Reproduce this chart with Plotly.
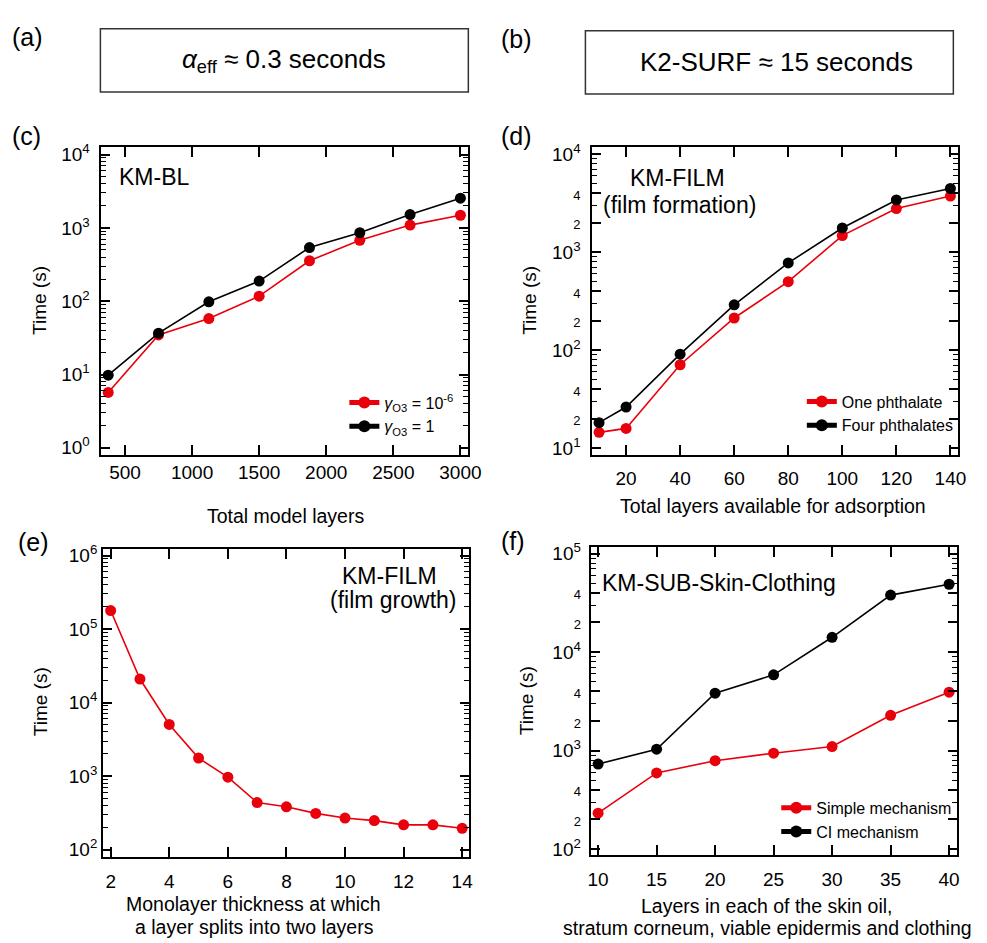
import plotly.graph_objects as go

# ---------------- data ----------------
c_layers = [375, 750, 1125, 1500, 1875, 2250, 2625, 3000]
c_gamma_small = [5.7, 34.7, 58, 117, 356, 676, 1090, 1485]
c_gamma_one = [9.8, 36.6, 98, 188, 539, 858, 1517, 2540]

d_layers = [10, 20, 40, 60, 80, 100, 120, 140]
d_one = [14.5, 15.9, 71, 213, 500, 1478, 2790, 3740]
d_four = [18.2, 26.3, 91, 290, 777, 1766, 3410, 4470]

e_thickness = [2, 3, 4, 5, 6, 7, 8, 9, 10, 11, 12, 13, 14]
e_time = [178600, 20900, 5035, 1758, 967, 437, 382, 311, 269, 248, 217, 217, 195]

f_layers = [10, 15, 20, 25, 30, 35, 40]
f_simple = [231, 592, 788, 940, 1097, 2280, 3910]
f_ci = [729, 1031, 3820, 5875, 14130, 37900, 48870]

c_xticks = [500, 1000, 1500, 2000, 2500, 3000]
d_xticks = [20, 40, 60, 80, 100, 120, 140]
e_xticks = [2, 4, 6, 8, 10, 12, 14]
f_xticks = [10, 15, 20, 25, 30, 35, 40]

c_decades = [0, 1, 2, 3, 4]
d_decades = [1, 2, 3, 4]
e_decades = [2, 3, 4, 5, 6]
f_decades = [2, 3, 4, 5]
labelled_minor = [2, 4]
minor_mults = [2, 3, 4, 5, 6, 7, 8, 9]

RED = "#e8000b"
BLACK = "#000000"
FONT = "Arial, Liberation Sans, sans-serif"
W, H = 987, 943


def px_x(p):
    return p / W


def px_y(p):
    return 1 - p / H


def major_ticks(decades, with_minor_labels):
    vals, texts = [], []
    for d in decades:
        vals.append(10 ** d)
        texts.append("10<sup>%d</sup>" % d)
        if with_minor_labels and d != decades[-1]:
            for m in labelled_minor:
                vals.append(m * 10 ** d)
                texts.append('<span style="font-size:13px">%d</span>' % m)
    return vals, texts


def minor_ticks(decades, skip):
    vals = []
    for d in decades[:-1]:
        for m in minor_mults:
            if m in skip:
                continue
            vals.append(m * 10 ** d)
    return vals


fig = go.Figure()

# ---------- traces ----------
marker = dict(size=11, symbol="circle")


def series(x, y, color, name, xa, ya, legend=None):
    kw = dict(legend=legend) if legend else dict(showlegend=False)
    return go.Scatter(x=x, y=y, mode="lines+markers", line=dict(color=color, width=1.6),
                      marker=dict(color=color, **marker), name=name, xaxis=xa, yaxis=ya, **kw)


fig.add_trace(series(c_layers, c_gamma_small, RED, "<i>γ</i><sub>O3</sub> = 10<sup>-6</sup>", "x", "y", "legend"))
fig.add_trace(series(c_layers, c_gamma_one, BLACK, "<i>γ</i><sub>O3</sub> = 1", "x", "y", "legend"))
fig.add_trace(series(d_layers, d_one, RED, "One phthalate", "x2", "y2", "legend2"))
fig.add_trace(series(d_layers, d_four, BLACK, "Four phthalates", "x2", "y2", "legend2"))
fig.add_trace(series(e_thickness, e_time, RED, "film growth", "x3", "y3"))
fig.add_trace(series(f_layers, f_simple, RED, "Simple mechanism", "x4", "y4", "legend3"))
fig.add_trace(series(f_layers, f_ci, BLACK, "CI mechanism", "x4", "y4", "legend3"))

# ---------- axes ----------
common = dict(showgrid=False, zeroline=False, showline=True, linecolor="black", linewidth=1.8,
              mirror="allticks", ticks="inside", tickcolor="black", tickwidth=1.5,
              tickfont=dict(family=FONT, size=19, color="black"))


def xaxis(domain, rng, tickvals, anchor, standoff):
    return dict(domain=domain, range=rng, tickmode="array", tickvals=tickvals,
                ticktext=[str(v) for v in tickvals], ticklen=10, anchor=anchor,
                ticklabelstandoff=standoff, **common)


def yaxis(domain, rng, decades, labelled, anchor, standoff):
    vals, texts = major_ticks(decades, labelled)
    mvals = minor_ticks(decades, labelled_minor if labelled else [])
    return dict(domain=domain, type="log", range=rng, tickmode="array", tickvals=vals,
                ticktext=texts, ticklen=9, anchor=anchor, ticklabelstandoff=standoff,
                minor=dict(tickmode="array", tickvals=mvals, ticks="inside", ticklen=5,
                           tickwidth=1.3, tickcolor="black", showgrid=False),
                **common)


top_dom = [px_y(453), px_y(142)]
fig.update_layout(
    xaxis=xaxis([px_x(100), px_x(473)], [324, 3059], c_xticks, "y", 0),
    yaxis=yaxis(top_dom, [-0.094, 4.098], c_decades, False, "x", 6),
    xaxis2=xaxis([px_x(599), px_x(971)], [7.5, 142.9], d_xticks, "y2", 6),
    yaxis2=yaxis(top_dom, [0.933, 4.07], d_decades, True, "x2", 6),
    xaxis3=xaxis([px_x(101.7), px_x(473.3)], [1.74, 14.22], e_xticks, "y3", 6),
    yaxis3=yaxis([px_y(860), px_y(548.3)], [1.90, 6.09], e_decades, False, "x3", 0),
    xaxis4=xaxis([px_x(597.3), px_x(969.3)], [9.36, 40.64], f_xticks, "y4", 6),
    yaxis4=yaxis([px_y(858.3), px_y(546.7)], [1.936, 5.064], f_decades, True, "x4", 4),
)

legend_common = dict(font=dict(family=FONT, size=16, color="black"), bgcolor="rgba(0,0,0,0)",
                     xanchor="left", yanchor="top", tracegroupgap=0, itemsizing="constant")
fig.update_layout(
    legend=dict(x=px_x(347), y=px_y(383), **legend_common),
    legend2=dict(x=px_x(812), y=px_y(382), **legend_common),
    legend3=dict(x=px_x(786), y=px_y(793), **legend_common),
)

# ---------- boxes ----------
fig.add_shape(type="rect", xref="paper", yref="paper", x0=px_x(99), x1=px_x(473),
              y0=px_y(86), y1=px_y(22), line=dict(color="#333", width=1.5))
fig.add_shape(type="rect", xref="paper", yref="paper", x0=px_x(592), x1=px_x(966),
              y0=px_y(88), y1=px_y(24), line=dict(color="#333", width=1.5))

ann = []


def add_text(text, x, y, size, xanchor="center", angle=0):
    ann.append(dict(text=text, x=px_x(x), y=px_y(y), xref="paper", yref="paper",
                    xanchor=xanchor, yanchor="middle", showarrow=False, textangle=angle,
                    font=dict(family=FONT, size=size, color="black")))


add_text("<i>α</i><sub>eff</sub> ≈ 0.3 seconds", 286, 54, 26)
add_text("K2-SURF ≈ 15 seconds", 786, 56, 26)
add_text("(a)", 7, 30, 25, "left")
add_text("(b)", 504, 32, 25, "left")
add_text("(c)", 7, 131, 25, "left")
add_text("(d)", 504, 131, 25, "left")
add_text("(e)", 13, 541, 25, "left")
add_text("(f)", 504, 540, 25, "left")

add_text("KM-BL", 116, 172, 23, "left")
add_text("KM-FILM", 686, 173, 23)
add_text("(film formation)", 688, 200, 23)
add_text("KM-FILM", 393, 576, 23)
add_text("(film growth)", 397, 600, 23)
add_text("KM-SUB-Skin-Clothing", 607, 583, 23, "left")

add_text("Total model layers", 287, 515, 19.5)
add_text("Total layers available for adsorption", 783, 505, 19.5)
add_text("Monolayer thickness at which", 255, 908, 19.5)
add_text("a layer splits into two layers", 256, 931, 19.5)
add_text("Layers in each of the skin oil,", 776, 910, 19.5)
add_text("stratum corneum, viable epidermis and clothing", 777, 932, 19.5)

add_text("Time (s)", 37, 297, 19, angle=-90)
add_text("Time (s)", 535, 297, 19, angle=-90)
add_text("Time (s)", 38, 703, 19, angle=-90)
add_text("Time (s)", 532, 702, 19, angle=-90)

fig.update_layout(annotations=ann, width=W, height=H,
                  margin=dict(l=0, r=0, t=0, b=0),
                  paper_bgcolor="white", plot_bgcolor="white",
                  font=dict(family=FONT, color="black"))

fig.write_html("out.html", config=dict(displayModeBar=False),
               post_script="document.body.style.margin='0';document.body.style.overflow='hidden';")
